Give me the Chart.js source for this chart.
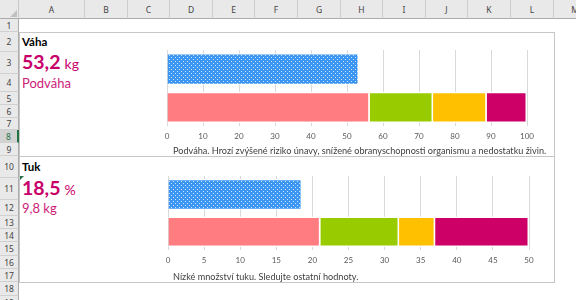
<!DOCTYPE html>
<html lang="cs">
<head>
<meta charset="utf-8">
<title>Váha a tuk</title>
<script src="https://cdn.jsdelivr.net/npm/chart.js@4.4.1/dist/chart.umd.min.js"></script>
<style>
    html, body { margin: 0; padding: 0; background: #fff; }
    body { width: 576px; height: 300px; position: relative; overflow: hidden; font-family: Lato, 'Open Sans', sans-serif; }
    .hdr { position: absolute; background: #e9e9e9; box-sizing: border-box; color: #444; font-family: 'Noto Sans', sans-serif; font-size: 8.5px; text-align: center; }
    .cell { position: absolute; white-space: nowrap; }
    .frame { position: absolute; border: 1px solid #c6c6c6; box-sizing: border-box; }
    canvas { position: absolute; }
    .note { position: absolute; left: 173px; font-size: 9.15px; color: #404040; white-space: nowrap; line-height: 12px; }
</style>
</head>
<body>
<div id="sheet"></div>

<div class="frame" style="left:19px; top:32px; width:536px; height:125px;"></div>
<div class="frame" style="left:19px; top:156px; width:536px; height:127px;"></div>

<div class="cell" style="left:22px; top:32px; line-height:20px; font-size:11.5px; font-weight:bold; color:#000;">Váha</div>
<div class="cell" style="left:22px; top:51px; line-height:22px; color:#c8006a;"><span style="font-size:19.5px; font-weight:bold;">53,2</span> <span style="font-size:14px;">kg</span></div>
<div class="cell" style="left:22px; top:74px; line-height:18px; font-size:13px; color:#cc1c78;">Podváha</div>

<div class="cell" style="left:22px; top:156px; line-height:22px; font-size:11.5px; font-weight:bold; color:#000;">Tuk</div>
<div class="cell" style="left:22px; top:177px; line-height:22px; color:#c8006a;"><span style="font-size:19.5px; font-weight:bold;">18,5</span> <span style="font-size:14px;">%</span></div>
<div class="cell" style="left:22px; top:200px; line-height:16px; font-size:13px; color:#cc1c78;">9,8 kg</div>
<div style="position:absolute; left:20px; top:176px; width:0; height:0; border-top:4px solid #217346; border-right:4px solid transparent;"></div>

<canvas id="weightChart" width="400" height="110" style="left:150px; top:40px;"></canvas>
<canvas id="fatChart" width="400" height="110" style="left:150px; top:166px;"></canvas>

<div class="note" style="top:145px;">Podváha. Hrozí zvýšené riziko únavy, snížené obranyschopnosti organismu a nedostatku živin.</div>
<div class="note" style="top:271px;">Nízké množství tuku. Sledujte ostatní hodnoty.</div>

<script>
// Chart data
const barLabels = ['Hodnota', 'Rozsah'];
const rangeNames = ['Podváha', 'Normální', 'Nadváha', 'Obezita'];
const rangeColors = ['#ff7c80', '#99cc00', '#ffc000', '#cc0066'];

const weightValue = [53.2];
const weightRanges = [56.3, 17.6, 14.9, 11.2]; // widths of the stacked segments
const weightAxis = [0, 100, 10];               // min, max, step

const fatValue = [18.5];
const fatRanges = [21.1, 10.9, 5.0, 13.0];
const fatAxis = [0, 50, 5];

// Spreadsheet frame (headers only, gridlines are off)
const columnLetters = ['A', 'B', 'C', 'D', 'E', 'F', 'G', 'H', 'I', 'J', 'K', 'L', 'M'];
const columnEdges = [19, 85, 128, 170, 213, 255, 298, 341, 383, 426, 468, 511, 554, 597];
const rowEdges = [19, 32, 52, 74, 92, 105, 118, 130, 143, 156, 178, 200, 216, 229, 242, 256, 269, 282, 296, 310];
const selectedRow = 8;

function buildSheet() {
    const sheet = document.getElementById('sheet');
    let html = '';
    // corner
    html += '<div class="hdr" style="left:0;top:0;width:19px;height:19px;border-right:1px solid #c8c8c8;border-bottom:1px solid #ababab;"></div>';
    html += '<div style="position:absolute;left:10px;top:10px;width:0;height:0;border-bottom:7px solid #c0c0c0;border-left:7px solid transparent;"></div>';
    for (let i = 0; i < columnLetters.length; i++) {
        const x = columnEdges[i];
        const w = columnEdges[i + 1] - x;
        html += '<div class="hdr" style="left:' + x + 'px;top:0;width:' + w + 'px;height:19px;line-height:19px;border-right:1px solid #cdcdcd;border-bottom:1px solid #ababab;">' + columnLetters[i] + '</div>';
    }
    for (let r = 0; r < rowEdges.length - 1; r++) {
        const y = rowEdges[r];
        const h = rowEdges[r + 1] - y;
        const sel = (r + 1) === selectedRow;
        html += '<div class="hdr" style="left:0;top:' + y + 'px;width:19px;height:' + h + 'px;line-height:' + h + 'px;'
            + 'border-bottom:1px solid #d0d0d0;border-right:' + (sel ? '2px solid #217346' : '1px solid #ababab') + ';'
            + (sel ? 'background:#d2d2d2;color:#217346;' : '') + '">' + (r + 1) + '</div>';
    }
    sheet.innerHTML = html;
}

// Blue bar with small white dots
function makeDotPattern(ctx) {
    const tile = document.createElement('canvas');
    tile.width = 4;
    tile.height = 4;
    const t = tile.getContext('2d');
    t.fillStyle = '#3a96f2';
    t.fillRect(0, 0, 4, 4);
    t.fillStyle = 'rgba(255,255,255,0.75)';
    t.fillRect(1, 1, 1, 1);
    t.fillRect(3, 3, 1, 1);
    return ctx.createPattern(tile, 'repeat');
}

function createGaugeChart(canvasId, value, ranges, axis, padding) {
    const ctx = document.getElementById(canvasId).getContext('2d');

    const datasets = [{
        label: barLabels[0],
        data: [value[0], null],
        backgroundColor: makeDotPattern(ctx),
        borderColor: '#ffffff',
        borderWidth: 1
    }];
    for (let i = 0; i < ranges.length; i++) {
        datasets.push({
            label: rangeNames[i],
            data: [null, ranges[i]],
            backgroundColor: rangeColors[i],
            borderColor: '#ffffff',
            borderWidth: 1.5
        });
    }

    return new Chart(ctx, {
        type: 'bar',
        data: { labels: barLabels, datasets: datasets },
        options: {
            indexAxis: 'y',
            responsive: false,
            animation: false,
            layout: { padding: padding },
            datasets: { bar: { categoryPercentage: 0.82, barPercentage: 1 } },
            plugins: { legend: { display: false }, tooltip: { enabled: false } },
            scales: {
                x: {
                    stacked: true,
                    min: axis[0],
                    max: axis[1],
                    ticks: { stepSize: axis[2], padding: 5, color: '#595959', font: { size: 8 } },
                    grid: { color: '#d9d9d9', drawTicks: false },
                    border: { display: false }
                },
                y: { stacked: true, display: false }
            }
        }
    });
}

Chart.defaults.font.family = "Lato, 'Open Sans', sans-serif";
buildSheet();
let weightChartInstance = createGaugeChart('weightChart', weightValue, weightRanges, weightAxis, { left: 17, right: 23, top: 10, bottom: 4 });
let fatChartInstance = createGaugeChart('fatChart', fatValue, fatRanges, fatAxis, { left: 18, right: 21, top: 10, bottom: 6 });
</script>
</body>
</html>
